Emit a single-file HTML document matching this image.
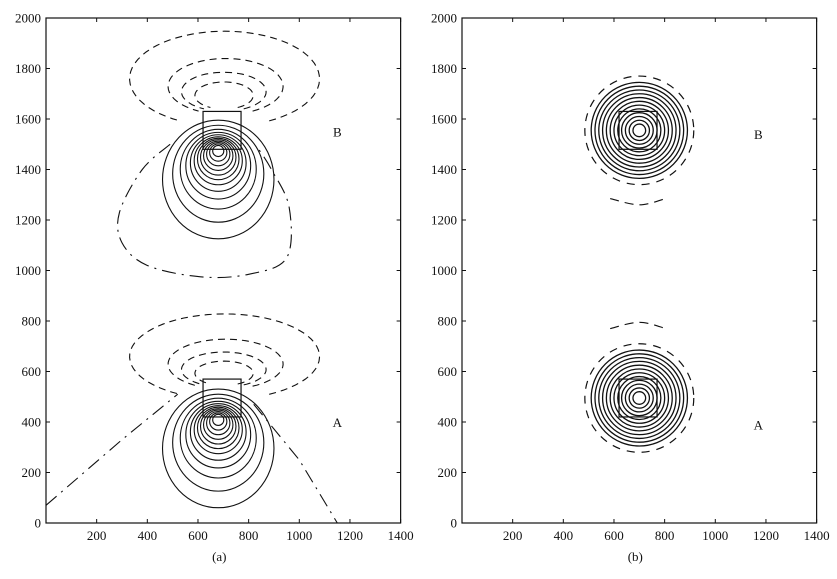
<!DOCTYPE html>
<html><head><meta charset="utf-8"><style>
body{margin:0;background:#fff}
svg text{font-family:"Liberation Serif",serif;font-size:13px;fill:#111}
</style></head><body>
<svg id="s" width="837" height="574" viewBox="0 0 837 574"></svg>
<script>
// ---- data ----
const xTicks=[200,400,600,800,1000,1200,1400];
const yTicks=[0,200,400,600,800,1000,1200,1400,1600,1800,2000];
const sources=[500,1565];               // source top (data y) for A and B
const negShift=[0,35];
const posRadiiX=[22,34,46,58,70,82,95,110,128,150,180,220];
const posRadiiY=[22,34,46,58,70,82,95,112,132,158,192,235];
const negRx=[115,167,227,375];
const negRy=[48,69,99,169];
const negCx=[703,702,709,705];
const negCyOff=[93,108,129,159];
const zeroA1X=[0,300,520], zeroA1Y=[70,330,510];
const zeroA2X=[820,1000,1150], zeroA2Y=[470,250,0];
const zeroBX=[490,380,290,300,400,610,800,950,960,890,840];
const zeroBY=[1500,1400,1230,1110,1020,975,985,1050,1250,1400,1480];
const ringCenters=[495,1555];
const ringRadii=[25,40,55,70,85,100,115,130,145,160,175,190];
const boxes=[[620,420,770,570],[620,1480,770,1630]];
// ---- scales ----
const S=document.getElementById('s'),NS='http://www.w3.org/2000/svg';
const panels=[{x0:46,name:'a'},{x0:462,name:'b'}];
const kx=0.2533, ky=0.2525, Y0=523;
function sx(p,v){return p.x0+v*kx}
function sy(v){return Y0-v*ky}
function el(t,a,parent){const e=document.createElementNS(NS,t);for(const k in a)e.setAttribute(k,a[k]);(parent||S).appendChild(e);return e}
function line(p,xs,ys,dash,g){let d='';xs.forEach((x,i)=>{d+=(i?'L':'M')+sx(p,x).toFixed(1)+' '+sy(ys[i]).toFixed(1)});return el('path',{d:d,fill:'none',stroke:'#111','stroke-width':1.1,'stroke-dasharray':dash||'none'},g)}
function smooth(p,xs,ys,dash,g){const pts=xs.map((x,i)=>[sx(p,x),sy(ys[i])]);const n=pts.length;let d='M'+pts[0].join(' ');
 const get=i=>pts[Math.max(0,Math.min(n-1,i))];
 for(let i=0;i<n-1;i++){const p0=get(i-1),p1=get(i),p2=get(i+1),p3=get(i+2);
 d+=`C${p1[0]+(p2[0]-p0[0])/6} ${p1[1]+(p2[1]-p0[1])/6} ${p2[0]-(p3[0]-p1[0])/6} ${p2[1]-(p3[1]-p1[1])/6} ${p2[0]} ${p2[1]}`}
 return el('path',{d:d,fill:'none',stroke:'#111','stroke-width':1.1,'stroke-dasharray':dash},g)}
function arc(p,cx,cy,rx,ry,a0,a1,dash,g){let d='';for(let i=0;i<=60;i++){const a=(a0+(a1-a0)*i/60)*Math.PI/180;
 const x=sx(p,cx+rx*Math.cos(a)),y=sy(cy+ry*Math.sin(a));d+=(i?'L':'M')+x.toFixed(1)+' '+y.toFixed(1)}
 return el('path',{d:d,fill:'none',stroke:'#111','stroke-width':1.1,'stroke-dasharray':dash},g)}
panels.forEach((p,pi)=>{
 const g=el('g',{});
 const fr=el('rect',{x:p.x0,y:sy(2000),width:1400*kx,height:2000*ky,fill:'none',stroke:'#111','stroke-width':1.2},g);
 
 xTicks.forEach(v=>{const x=sx(p,v);
  el('line',{x1:x,x2:x,y1:sy(0),y2:sy(0)-4,stroke:'#111'},g);el('line',{x1:x,x2:x,y1:sy(2000),y2:sy(2000)+4,stroke:'#111'},g);
  const t=el('text',{x:x,y:sy(0)+17,'text-anchor':'middle'},g);t.textContent=v;
  });
 yTicks.forEach(v=>{const y=sy(v);
  el('line',{x1:p.x0,x2:p.x0+4,y1:y,y2:y,stroke:'#111'},g);el('line',{x1:sx(p,1400),x2:sx(p,1400)-4,y1:y,y2:y,stroke:'#111'},g);
  const t=el('text',{x:p.x0-5,y:y+4.5,'text-anchor':'end'},g);t.textContent=v;
  });
 const c=el('text',{x:sx(p,700)-4,y:561,'text-anchor':'middle'},g);c.textContent='('+p.name+')';
 
 boxes.forEach(b=>{const r=el('rect',{x:sx(p,b[0]),y:sy(b[3]),width:(b[2]-b[0])*kx,height:(b[3]-b[1])*ky,fill:'none',stroke:'#111','stroke-width':1.2},g);
  });
 const lab=[['A',1150,380],['B',1150,1530]];
 lab.forEach(l=>{const t=el('text',{x:sx(p,l[1]+(pi?20:0)),y:sy(l[2]+(pi?-10:0)),'text-anchor':'middle','font-size':'14'},g);t.textContent=l[0];
  });
 if(pi===0){
  sources.forEach((top,si)=>{
   const base=top-80;
   posRadiiX.forEach((rx,i)=>{const ry=posRadiiY[i];const cy=base-0.53*ry;
    const e=el('ellipse',{cx:sx(p,680),cy:sy(cy),rx:rx*kx,ry:ry*ky,fill:'none',stroke:'#111','stroke-width':1.1},g);
    });
   negRx.forEach((rx,i)=>{
    const e=arc(p,negCx[i],top+negCyOff[i]+negShift[si],rx,negRy[i]*(1+negShift[si]/300),-62,242,'7 5',g);
    });
  });
  let e=line(p,zeroA1X,zeroA1Y,'14 6 2 6',g);
  e=line(p,zeroA2X,zeroA2Y,'14 6 2 6',g);
  e=smooth(p,zeroBX,zeroBY,'14 6 2 6',g);
 } else {
  ringCenters.forEach((cy,j)=>{
   ringRadii.forEach(r=>{const e=el('ellipse',{cx:sx(p,700),cy:sy(cy),rx:r*kx,ry:r*ky,fill:'none',stroke:'#111','stroke-width':1.3},g);
    });
   const e=el('ellipse',{cx:sx(p,700),cy:sy(cy),rx:215*kx,ry:215*ky,fill:'none',stroke:'#111','stroke-width':1.2,'stroke-dasharray':'8 7'},g);
   
   const ay=j===0?cy+290:cy-285, sgn=j===0?1:-1;
   const a=smooth(p,[585,700,805],[ay-15*sgn,ay+10*sgn,ay-15*sgn],'9 6',g);
   
  });
 }
});
</script>
</body></html>
